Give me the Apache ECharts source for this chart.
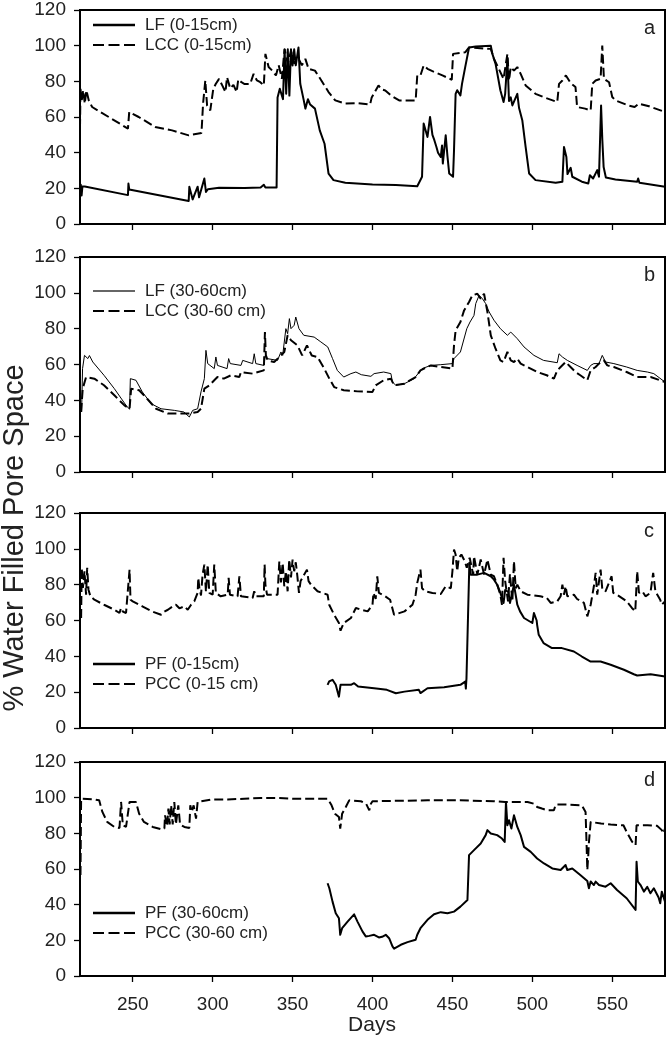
<!DOCTYPE html>
<html>
<head>
<meta charset="utf-8">
<script src="https://cdn.jsdelivr.net/npm/echarts@6/dist/echarts.min.js"></script>
<style>
html,body{margin:0;padding:0;background:#fff;}
#chart{width:669px;height:1040px;}
</style>
</head>
<body>
<div id="chart"></div>
<script>
// ---------- data (day, % WFPS) ----------
const xTicks = [250, 300, 350, 400, 450, 500, 550];
const yTicks = [0, 20, 40, 60, 80, 100, 120];
const panelLetters = ['a', 'b', 'c', 'd'];

const aLF = [[217,18],[217.5,22],[218,16],[218.5,21],[220,21],[247,16.2],[247.3,22.7],[247.8,19.4],[285,12.9],[285.4,20.9],[287.5,13.8],[290.6,20.9],[291.5,15],[294.8,25.5],[295.8,18],[297,19.5],[304,20.3],[320,20.2],[330,20.5],[332,22],[333,20.5],[340,20.5],[340.6,71],[342,75.8],[344,70],[345,98],[346,73],[347,98],[348,72],[349,98],[350,88.9],[351,98],[352,89],[353.7,99],[354.8,78.6],[357,69.3],[358,64.7],[359.6,70],[361,67],[364,64.7],[367,52.5],[370,45],[372.5,28.3],[375.6,24.6],[383,23.1],[400,22.2],[414.6,21.8],[428,21.2],[431,26.5],[432,56.3],[433,57],[434.4,48.8],[436,60],[437.5,50],[438.7,47],[440,43.2],[441,40],[442.7,37.6],[443.5,44],[444,33.9],[445.8,49.7],[446.9,38],[448,28.3],[450.4,26.5],[451,41.4],[452,73],[453,75],[455,72.1],[456,78.6],[458,88],[460.4,99],[464.6,99.5],[474,100],[475,95.4],[477,89.8],[480,75],[482,68.4],[483,73],[484.4,92.6],[485.4,69],[486.5,71],[487.5,66.5],[490.6,73],[491.7,65],[493.75,58],[495.8,43.2],[498,28.3],[502,24.6],[514.6,23.1],[518.8,23.7],[519.8,43.2],[521.3,37.6],[522,28],[524,31.5],[525,26.5],[531,23.7],[535,22.7],[536,27.3],[538,25.5],[540.6,30.2],[541.7,26.5],[543,66.5],[543.8,47],[544.6,32],[546,26.1],[552,25],[565.6,23.7],[566.2,25.5],[567,23.1],[583,20.9]];

const aLCC = [[217,54],[217.3,75.8],[218,69],[219,75],[220,67.5],[221,75],[222.5,69.3],[224.6,65.6],[247,53.5],[247.8,62.8],[253.75,60],[264,54.4],[274.6,52.5],[285,49.7],[293,51],[294,67.5],[295.4,80.5],[296.5,66.5],[298.5,63.7],[300.4,75.8],[302,78.6],[304,81.4],[306,77.7],[308,74],[309,82.3],[311,76],[313,78],[315,74],[316,81],[318,79.5],[320,78.5],[323.5,78.6],[325.6,84.2],[327.7,80.5],[329.8,79.5],[332,77.7],[333,95.4],[335,88],[337.3,86],[339.6,83.3],[341.3,89],[343.3,81.4],[344.4,92.6],[345,98],[347,90],[349,97],[351,90],[353.75,92.6],[355.8,89],[358,92.6],[360,87],[364,86],[368,80.5],[372.5,74],[376.7,69.3],[383,67.5],[391,67.8],[398.5,67],[399.5,71],[403.75,77.7],[405.8,75.5],[408,74.9],[411.5,72.1],[416.7,69.3],[427,69.3],[428,83.3],[430,83.3],[432,88.9],[434.4,87],[437.5,85.7],[443.75,83.3],[449.6,80.9],[450.4,95.4],[458,96.3],[460.4,99],[474,98.2],[476,92.6],[479,87],[482,81.4],[484.4,95.4],[485.4,80.5],[486.5,88],[488.5,86],[490.6,88],[492.7,84.2],[495.8,77.7],[502,73],[508,70.8],[515.6,68.4],[516.7,78.6],[518.8,80.5],[521,83.3],[524,79],[527,76.8],[528,65.6],[533,64.7],[536.5,63.7],[537.5,78.6],[539.6,80.5],[542.7,81.4],[543.75,100],[544.8,81.4],[548,79.5],[550,71.2],[552,69.3],[560,66.5],[564,65.6],[566.7,67.5],[573,66],[583,62.8]];

const bLF = [[218,33.5],[218.6,57.7],[219.8,65.1],[221.9,63.3],[222.9,65],[225,61.4],[232,54],[238.5,46.5],[245.8,37.2],[248,35],[248.5,52.1],[249.4,53],[252,51.2],[256,44.7],[261.5,38.1],[267.7,35.3],[276,34.4],[282,33.5],[285.4,30.7],[287.5,34.4],[290.6,35.3],[292.7,44.7],[294.8,52.1],[295.8,67.9],[296.9,60.5],[301,57.7],[302,64.2],[303,59.5],[309,57.7],[310,63.3],[311,60.5],[317.7,59.5],[318.8,62.3],[325,60.5],[326,66],[327,60.5],[332,59.5],[333,65.1],[334,63.3],[340.6,62.3],[342.7,67],[343.8,65.1],[345.8,80],[346.9,77.2],[348,85.6],[349,80],[351,81.9],[352,86.5],[354,80],[357,76.3],[363.5,75.3],[367.7,72.6],[372,69.8],[375,63.3],[378,56.7],[382,53],[386.5,54.9],[389.6,55.8],[393,54.3],[399,53.4],[401,54.9],[407,55.8],[411.5,54.9],[412.5,50.2],[414.6,48.4],[420,49.3],[426,52.1],[431,57.7],[436.5,59.5],[442.7,59.9],[450,60.5],[451,63.3],[455,67],[459,80],[461,83.7],[463.5,87.4],[464.6,94],[466.7,98.6],[468.8,96.7],[470.8,94],[473,89.3],[476,84.7],[480,80],[484.4,76.3],[486.5,78.1],[490.6,74.4],[494.8,69.8],[501,65.1],[507,62.3],[515.6,61],[516.7,66],[518.8,64.2],[519.8,65.1],[521.9,62.3],[528,59.5],[534.4,56.7],[536.5,59.5],[538.5,60.5],[541.7,60.5],[543.75,65.1],[545.8,61.4],[551,60.5],[559,58.6],[565.6,56.7],[572,55.8],[576,54.9],[583,50.2]];

const bLCC = [[217.7,33.5],[218.7,46.5],[220.8,53],[221.9,54],[226,52.1],[232,48.4],[238.5,42.8],[244.8,37.2],[248,35.3],[249,46.5],[254,45.6],[259,40.9],[264.6,35.3],[272,32.6],[280,32.6],[285.4,32.6],[290.6,33.5],[292.7,35.3],[294.8,46.5],[298,48.4],[301,51.2],[303,53],[307,52.1],[311.5,54],[316.7,53],[317.7,55.8],[325,54.9],[332,56.7],[332.7,78.1],[333.3,65.1],[334.4,62.3],[338.5,61.4],[342.7,65.1],[344.8,67],[346.9,76.3],[349,73.5],[353,70.7],[356,65.1],[359,70.7],[362,65],[365.6,64.2],[369.8,57.7],[373,52.1],[376,47.4],[382,45.6],[390.6,45],[400,44.7],[402,48.4],[407,51.2],[411.5,52.1],[413.5,48.4],[420,49.3],[427,53],[430,56.7],[436.5,59.5],[442.7,58.6],[450,57.7],[451,70.7],[452,79],[455,83.7],[457.3,90.2],[460.4,94.9],[462.5,98.6],[465.6,99.5],[467.7,96.7],[469.8,99.5],[471.9,89.3],[474,76.3],[477,68.8],[480,62.3],[482,61.4],[484.4,67],[486.5,62.3],[488.5,61.4],[490.6,63.3],[492.7,60.5],[496.9,58.6],[503,55.8],[509,54],[513.5,52.1],[515.6,56.7],[517.7,58.6],[520.8,61.4],[523.9,58.6],[527,55.8],[530,54],[534.4,51.2],[536.5,56.7],[539.6,58.6],[541.7,60.5],[544.8,62.3],[546.9,59.5],[551,58.6],[559,55.8],[565.6,53],[574,53],[583,50.2]];

const cPF = [[371.9,24.1],[372.9,26],[375,26.9],[377,24.1],[379,17.5],[380,24.1],[386.5,24.1],[388.5,25],[391,23.1],[401,22.2],[409,21.3],[414.6,19.4],[420,20.3],[429,21.3],[430,19.5],[434.4,22.2],[444.8,22.8],[455,24.1],[458,25.9],[458.4,22],[458.8,27.8],[460,28.5],[460.6,92.2],[461.5,85.6],[465.6,85.6],[469.8,86.6],[474,84.7],[476,82.8],[478,80],[480,75.4],[482,69.8],[483,77],[485,76],[486,69.8],[488.5,80],[490.6,68.8],[492.3,65.1],[494.8,61.4],[500,58.6],[501,64.2],[502.7,60],[503,57.6],[504,52],[507,47.4],[512.3,44.6],[518.5,44.6],[526,42.7],[531,39.9],[536.5,37.1],[542.7,37.1],[549,35.3],[557.3,32.5],[563.5,30],[565.6,29.3],[574,30],[583,28.7]];

const cPCC = [[217.7,61.4],[218.1,89.4],[218.8,78.2],[219.8,87.5],[220.8,74.4],[221.5,89.4],[222.3,77.2],[223.5,73.5],[226,71.6],[232,68.8],[238.5,66],[241.7,64.2],[242.7,67],[243.8,65],[245.8,64.2],[246.9,65],[248,88.4],[248.6,71.6],[250,70.7],[256,67.9],[262,65.1],[267.7,63.2],[269.8,65],[272,66],[275,67.9],[277,68.8],[279.2,66.8],[282.3,67.9],[284.4,66],[286.5,68.8],[288.5,70.7],[290.6,75.4],[291,83.8],[291.7,78],[292.7,74],[293.7,85.6],[294.8,91.2],[295.8,76],[296.9,91.2],[297.9,75.4],[300,74.4],[301,91.2],[302,75.4],[305,73.5],[309.4,74.4],[310,83.8],[310.8,74.4],[315.6,73.5],[316.7,84.7],[317.7,73.5],[325,72.6],[326,76.3],[327,73.5],[332,73.5],[332.5,91.2],[333,80],[334,74.4],[340.6,74.4],[341.7,93],[342.7,81.2],[343.8,92.2],[344.8,79.1],[345.8,87.5],[346.9,76.3],[347.9,94],[349,84],[350,94],[351,87.5],[352,92.5],[353,84.7],[354,75.4],[355,82],[359,88.4],[360,82],[361.5,80],[365.6,76.3],[371.9,74.4],[372.9,68.8],[376,63.2],[379,58.6],[380,54.3],[382,58.6],[386.5,61.4],[389.6,67],[393,66],[397,65.1],[400,68.8],[400.6,75.4],[402,72],[403,84.7],[404,75.4],[408,73.5],[411,71.6],[413.5,63.2],[420,65.1],[425,68.8],[427,74.4],[428,81],[430,88.4],[431,78],[433,76.3],[437.5,75.4],[442.7,74.8],[445.8,79.1],[449,78],[450,87.5],[451,99.6],[452,96.8],[453,87.5],[454,95],[455.6,96.8],[457.7,93.1],[459,89.4],[460.8,95],[463,85.6],[463.5,95.9],[465.6,85.6],[467.7,94],[469.8,85.6],[471.9,94],[474,85.6],[476,84.7],[478,80],[480,74.4],[481,68.8],[482,95],[483,82],[484.8,70.7],[486,86],[487.5,70.7],[488.5,93.1],[489.6,78],[490.6,80],[492.7,76.3],[496.9,74.4],[505,73.5],[509,72.6],[511.5,69.8],[515.6,70.7],[517.7,73.5],[518.8,80],[519.8,74.4],[520.8,79.1],[521.9,73.5],[526,74.4],[528,72],[532.3,69.8],[534.4,62.3],[536.5,68.8],[538.5,79.1],[539.6,86.6],[540.6,74.4],[542.7,88.4],[543.8,77.2],[545.8,76.3],[549.6,84.7],[550.6,75.4],[553,74.4],[559,70.7],[562.3,67],[564.4,65.1],[565.6,87.5],[566.7,75.4],[568.8,76.3],[570.8,73.5],[573.9,75.4],[575.6,86.6],[577,76.3],[580,71.6],[581,68.8],[583,70.7]];

const dPF = [[371.9,52],[373,49.2],[375,41.7],[377,35.2],[379,32.4],[379.8,23.1],[381,26.8],[384.4,30.5],[388.5,34.6],[389.6,34],[390.6,30.5],[393.7,25],[395.8,22.2],[398,22.5],[401,23.1],[404,21.6],[406,22],[408.3,23.1],[410.4,21.2],[412.5,16.6],[413.5,15.3],[417.7,17.5],[421.9,19],[427,20.3],[428,23.1],[430,26.8],[434.4,31.5],[438.5,34.6],[442.7,35.8],[446.9,35.2],[451,36.1],[455,38.9],[459.4,42.6],[460.4,67.8],[463.5,70.6],[467.7,74.3],[470.8,79],[471.9,81.8],[474,79.9],[478,79],[481,77.1],[482.7,75.2],[483.5,97.6],[484.4,84.5],[485.4,87.3],[486.9,82.7],[488.5,90.1],[490.6,83.6],[492.7,79],[494.8,72.4],[499,69.6],[503,65.9],[507.3,63.1],[512.5,60.3],[517.7,59.4],[520.8,62.2],[521.9,59.4],[525,60.3],[530,56.6],[534.4,53.3],[535.4,49.2],[536.5,53],[538.5,51],[539.6,52.9],[541.7,51],[545.8,50.1],[549,52],[553,48.2],[559,43.6],[564.6,37.1],[565.2,64.1],[566,53],[567.7,51],[569.8,47.3],[571.9,50],[573.9,46.4],[576,49.2],[579,44],[580,40.8],[581,47.3],[583,41.7]];

const dPCC = [[217.3,56.6],[217.7,99.4],[226,99],[229,98.5],[231,92],[234,86.4],[238.5,83.6],[241.7,83],[242.7,97.6],[243.8,84.5],[245.8,83.6],[247,82.7],[248,97.6],[252,97.6],[254,91],[257,86.4],[262.5,83.6],[267.7,82.3],[269.8,82.7],[270.2,90.1],[271.5,84],[272.3,93.9],[273.1,85],[274,95.7],[275,85],[276,97.6],[277,85],[278.5,95.7],[279.6,85],[282.3,83.6],[285.4,83],[286,95.7],[286.9,92],[288.1,95.7],[289.6,88.3],[290.6,97.6],[291.7,98.5],[299,98.9],[309.4,99],[319.8,99.4],[330,99.8],[340.6,99.8],[351,99.4],[372,99.4],[374.4,95.7],[376.5,91],[379,89.2],[379.8,82.7],[381,91],[383.3,94.8],[385.4,98.5],[392.7,98],[396,96.6],[398,92.9],[399,96.6],[400,98],[434.4,98.5],[455,98.5],[476,98],[483,97.6],[497,97.6],[501,96.6],[503,94.8],[504,95.7],[506,93.9],[509.4,92.9],[513.5,92.9],[514.6,96.1],[522,96.1],[531,95.7],[533.3,92],[533.9,75],[534.4,59.4],[535,67.8],[535.4,75],[536.5,86.4],[537.5,85.5],[543,85.5],[549,84.9],[557,84.5],[559,80.8],[562.5,75.2],[564.6,73.4],[565.2,84.5],[572,84.5],[578,84.2],[581,81.8],[582,79.9],[583,82.7]];

// ---------- chart ----------
const FONT = '"Liberation Sans", Arial, sans-serif';
const TXT = '#222';
const DASH_ICON = 'path://M0,0h11v2h-11zM15.5,0h11v2h-11zM31,0h11v2h-11z';
const panels = [
  {top: 10,  height: 214, solid: ['LF (0-15cm)', aLF, 2],   dashed: ['LCC (0-15cm)', aLCC],   legendTop: 11},
  {top: 257, height: 215, solid: ['LF (30-60cm)', bLF, 1],  dashed: ['LCC (30-60 cm)', bLCC], legendTop: 277},
  {top: 513, height: 215, solid: ['PF (0-15cm)', cPF, 2],   dashed: ['PCC (0-15 cm)', cPCC],  legendTop: 650},
  {top: 762, height: 214, solid: ['PF (30-60cm)', dPF, 2],  dashed: ['PCC (30-60 cm)', dPCC], legendTop: 899}
];

const grid = [], xAxis = [], yAxis = [], series = [], legend = [], graphic = [];
panels.forEach((p, i) => {
  grid.push({left: 80, width: 585, top: p.top, height: p.height, show: true,
    borderColor: '#000', borderWidth: 2, backgroundColor: 'transparent'});
  xAxis.push({type: 'value', gridIndex: i, min: 217, max: 583,
    splitNumber: 7, minInterval: 50, maxInterval: 50,
    axisLine: {show: true, onZero: false, lineStyle: {color: '#000', width: 2}},
    axisTick: {show: true, inside: false, length: 6, lineStyle: {color: '#000', width: 1.3},
      customValues: xTicks},
    axisLabel: {show: i === 3, margin: 19, fontSize: 19, color: TXT, fontFamily: FONT,
      customValues: xTicks},
    splitLine: {show: false}});
  yAxis.push({type: 'value', gridIndex: i, min: yTicks[0], max: yTicks[yTicks.length - 1], interval: 20,
    axisLine: {show: true, lineStyle: {color: '#000', width: 2}},
    axisTick: {show: true, inside: false, length: 6, lineStyle: {color: '#000', width: 1.3}},
    axisLabel: {margin: 14, fontSize: 19, color: TXT, fontFamily: FONT},
    splitLine: {show: false}});
  series.push({name: p.solid[0], type: 'line', xAxisIndex: i, yAxisIndex: i, data: p.solid[1],
    symbol: 'none', showSymbol: false, smooth: false, animation: false, color: '#000',
    itemStyle: {color: '#000'},
    lineStyle: {color: '#000', width: p.solid[2], type: 'solid', join: 'round'}});
  series.push({name: p.dashed[0], type: 'line', xAxisIndex: i, yAxisIndex: i, data: p.dashed[1],
    symbol: 'none', showSymbol: false, smooth: false, animation: false, color: '#000',
    itemStyle: {color: '#000'},
    lineStyle: {color: '#000', width: 2, type: [9, 4]}});
  legend.push({orient: 'vertical', left: 88, top: p.legendTop,
    data: [
      {name: p.solid[0], icon: 'rect', itemStyle: {color: '#000', opacity: p.solid[2] === 1 ? 0.6 : 1}},
      {name: p.dashed[0], icon: DASH_ICON, itemStyle: {color: '#000'}}
    ],
    itemWidth: 42, itemHeight: p.solid[2] === 1 ? 2 : 2.4, itemGap: 2,
    selectedMode: false,
    textStyle: {fontSize: 17, color: TXT, fontFamily: FONT, lineHeight: 18, padding: [0, 0, 0, 5]}});
  graphic.push({type: 'text', left: 644, top: p.top + 8,
    style: {text: panelLetters[i], font: '20px ' + FONT, fill: TXT}});
});

graphic.push({type: 'text', x: 15, y: 538, rotation: Math.PI / 2,
  style: {text: '% Water Filled Pore Space', font: '29px ' + FONT, fill: TXT,
    align: 'center', verticalAlign: 'middle'}});
graphic.push({type: 'text', x: 372, y: 1025,
  style: {text: 'Days', font: '21px ' + FONT, fill: TXT, align: 'center', verticalAlign: 'middle'}});

const chart = echarts.init(document.getElementById('chart'), null, {renderer: 'canvas'});
chart.setOption({animation: false, backgroundColor: '#fff', grid, xAxis, yAxis, series, legend, graphic});
</script>
</body>
</html>
